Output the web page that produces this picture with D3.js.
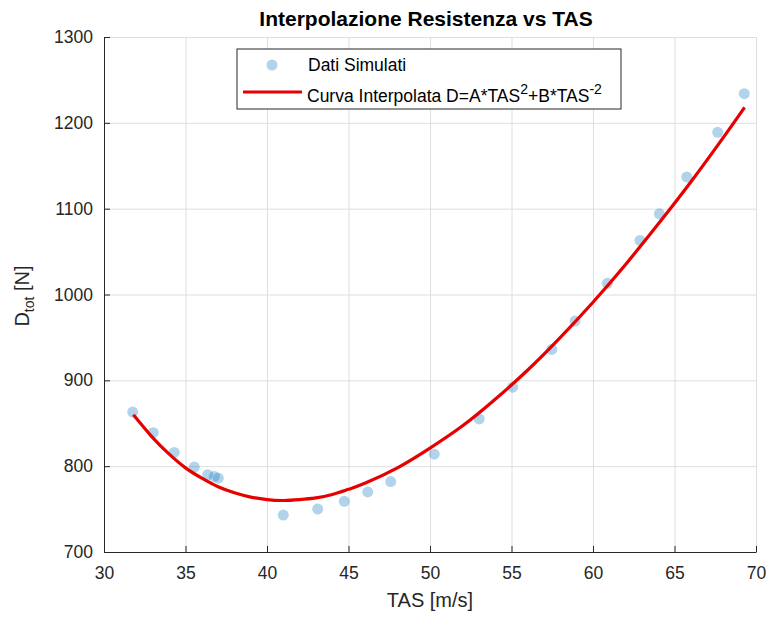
<!DOCTYPE html>
<html>
<head>
<meta charset="utf-8">
<script src="https://cdn.jsdelivr.net/npm/d3@7"></script>
<style>
  body { margin: 0; background: #fff; }
  text { font-family: "Liberation Sans", Arial, sans-serif; }
</style>
</head>
<body>
<div id="container"></div>
<script>
/* CONSTANTS AND GLOBALS */
const width = 769,
  height = 619,
  margin = { top: 37, bottom: 67, left: 104, right: 13 }

/* DATA */
const tasSim = [31.76, 33.02, 34.31, 35.54, 36.36, 36.77, 37.01, 41.0, 43.11, 44.74, 46.18, 47.59,
  50.26, 53.02, 55.07, 57.47, 58.90, 60.88, 62.88, 64.07, 65.75, 67.65, 69.28]
const dragSim = [863, 839, 816, 799, 790, 788, 786, 743, 750, 759, 770, 782,
  814, 855, 892, 936, 969, 1013, 1063, 1094, 1137, 1189, 1234]

// red fitted curve, sampled along the drawn line
const tasFit = [31.8, 33, 34, 35, 36, 37, 38, 39, 40, 41, 42, 43, 44, 45, 46, 48, 50,
  52, 54, 56, 58, 60, 62, 64, 66, 68, 69.3]
const dragFit = [860, 833, 814, 798, 786, 776, 769, 764, 761, 760, 761, 763, 767, 773, 780, 798, 821,
  847, 878, 912, 950, 991, 1035, 1082, 1131, 1183, 1218]

const xTicks = [30, 35, 40, 45, 50, 55, 60, 65, 70]
const yTicks = [700, 800, 900, 1000, 1100, 1200, 1300]

const sim = tasSim.map((d, i) => ({ x: d, y: dragSim[i] }))
const fit = tasFit.map((d, i) => ({ x: d, y: dragFit[i] }))

// SCALES
const xScale = d3.scaleLinear()
  .domain([30, 70])
  .range([margin.left, width - margin.right])

const yScale = d3.scaleLinear()
  .domain([700, 1300])
  .range([height - margin.bottom, margin.top])

// SVG
const svg = d3.select("#container")
  .append("svg")
  .attr("width", width)
  .attr("height", height)

// grid
svg.append("g")
  .attr("transform", `translate(0,${height - margin.bottom})`)
  .call(d3.axisBottom(xScale).tickValues(xTicks).tickSize(-(height - margin.top - margin.bottom)).tickFormat(""))
  .call(g => g.select(".domain").remove())
  .call(g => g.selectAll("line").attr("stroke", "#dedede"))

svg.append("g")
  .attr("transform", `translate(${margin.left},0)`)
  .call(d3.axisLeft(yScale).tickValues(yTicks).tickSize(-(width - margin.left - margin.right)).tickFormat(""))
  .call(g => g.select(".domain").remove())
  .call(g => g.selectAll("line").attr("stroke", "#dedede"))

// AXES (ticks inward, MATLAB style)
const xAxis = d3.axisBottom(xScale).tickValues(xTicks).tickSizeInner(-6).tickSizeOuter(0).tickPadding(15)
svg.append("g")
  .attr("class", "xAxis")
  .attr("transform", `translate(0,${height - margin.bottom})`)
  .call(xAxis)
  .call(g => g.selectAll("text").attr("font-size", 17.5).attr("fill", "#262626").attr("font-family", "Liberation Sans, Arial, sans-serif"))
  .call(g => g.selectAll("line, path").attr("stroke", "#262626"))

const yAxis = d3.axisLeft(yScale).tickValues(yTicks).tickFormat(d3.format("d"))
  .tickSizeInner(-6).tickSizeOuter(0).tickPadding(11)
svg.append("g")
  .attr("class", "yAxis")
  .attr("transform", `translate(${margin.left},0)`)
  .call(yAxis)
  .call(g => g.selectAll("text").attr("font-size", 17.5).attr("fill", "#262626").attr("font-family", "Liberation Sans, Arial, sans-serif"))
  .call(g => g.selectAll("line, path").attr("stroke", "#262626"))

// points
svg.selectAll(".pt")
  .data(sim)
  .join("circle")
  .attr("class", "pt")
  .attr("cx", d => xScale(d.x))
  .attr("cy", d => yScale(d.y))
  .attr("r", 5.5)
  .attr("fill", "#0072bd")
  .attr("fill-opacity", 0.3)

// LINE GENERATOR
const lineGen = d3.line()
  .x(d => xScale(d.x))
  .y(d => yScale(d.y))
  .curve(d3.curveNatural)

svg.append("path")
  .attr("d", lineGen(fit))
  .attr("fill", "none")
  .attr("stroke", "#e60000")
  .attr("stroke-width", 3.2)

// title + labels
svg.append("text")
  .attr("x", 426)
  .attr("y", 26)
  .attr("text-anchor", "middle")
  .attr("font-size", 21)
  .attr("font-weight", "bold")
  .attr("fill", "#000")
  .text("Interpolazione Resistenza vs TAS")

svg.append("text")
  .attr("x", xScale(50))
  .attr("y", 607)
  .attr("text-anchor", "middle")
  .attr("font-size", 20)
  .attr("fill", "#262626")
  .text("TAS [m/s]")

const yl = svg.append("text")
  .attr("transform", "translate(29,296) rotate(-90)")
  .attr("text-anchor", "middle")
  .attr("font-size", 20)
  .attr("fill", "#262626")
yl.append("tspan").text("D")
yl.append("tspan").attr("font-size", 14).attr("dy", 5).text("tot")
yl.append("tspan").attr("dy", -5).text(" [N]")

// LEGEND
const lg = svg.append("g")
lg.append("rect")
  .attr("x", 237).attr("y", 49)
  .attr("width", 384).attr("height", 60)
  .attr("fill", "#fff")
  .attr("stroke", "#262626")
  .attr("stroke-width", 1)

lg.append("circle")
  .attr("cx", 272).attr("cy", 65).attr("r", 5.5)
  .attr("fill", "#0072bd").attr("fill-opacity", 0.3)

lg.append("text")
  .attr("x", 308).attr("y", 71)
  .attr("font-size", 17.5).attr("fill", "#000")
  .text("Dati Simulati")

lg.append("line")
  .attr("x1", 243).attr("x2", 302)
  .attr("y1", 92).attr("y2", 92)
  .attr("stroke", "#e60000").attr("stroke-width", 3.2)

const lt = lg.append("text")
  .attr("x", 307).attr("y", 102)
  .attr("font-size", 17.5).attr("fill", "#000")
lt.append("tspan").text("Curva Interpolata D=A*TAS")
lt.append("tspan").attr("font-size", 14).attr("dy", -8).text("2")
lt.append("tspan").attr("dy", 8).text("+B*TAS")
lt.append("tspan").attr("font-size", 14).attr("dy", -8).text("-2")
</script>
</body>
</html>
